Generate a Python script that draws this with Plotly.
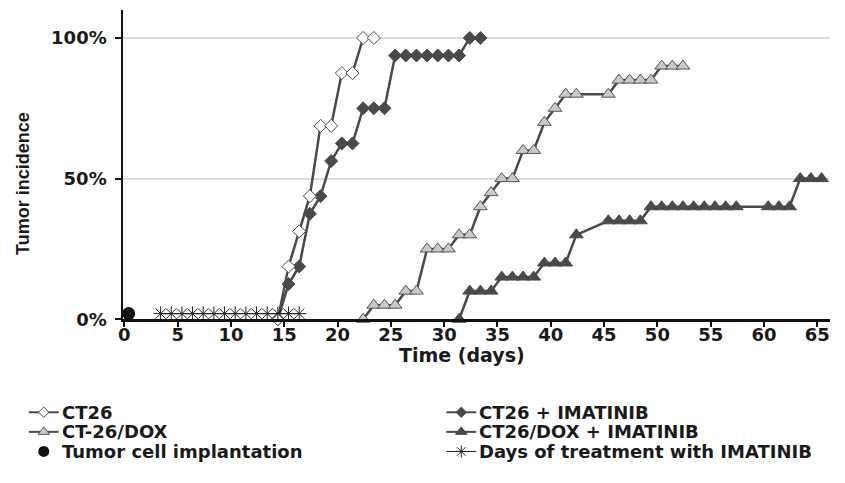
import plotly.graph_objects as go

# ---- data ----
ct26_days = [14.4, 15.4, 16.4, 17.4, 18.4, 19.4, 20.4, 21.4, 22.4, 23.4]
ct26_pct = [0, 18.75, 31.25, 43.75, 68.75, 68.75, 87.5, 87.5, 100, 100]

ct26_ima_days = [14.4, 15.4, 16.4, 17.4, 18.4, 19.4, 20.4, 21.4, 22.4, 23.4,
                 24.4, 25.4, 26.4, 27.4, 28.4, 29.4, 30.4, 31.4, 32.4, 33.4]
ct26_ima_pct = [0, 12.5, 18.75, 37.5, 43.75, 56.25, 62.5, 62.5, 75, 75,
                75, 93.75, 93.75, 93.75, 93.75, 93.75, 93.75, 93.75, 100, 100]

dox_days = [22.4, 23.4, 24.4, 25.4, 26.4, 27.4, 28.4, 29.4, 30.4, 31.4,
            32.4, 33.4, 34.4, 35.4, 36.4, 37.4, 38.4, 39.4, 40.4, 41.4,
            42.4, 45.4, 46.4, 47.4, 48.4, 49.4, 50.4, 51.4, 52.4]
dox_pct = [0, 5, 5, 5, 10, 10, 25, 25, 25, 30,
           30, 40, 45, 50, 50, 60, 60, 70, 75, 80,
           80, 80, 85, 85, 85, 85, 90, 90, 90]

dox_ima_days = [31.4, 32.4, 33.4, 34.4, 35.4, 36.4, 37.4, 38.4, 39.4, 40.4,
                41.4, 42.4, 45.4, 46.4, 47.4, 48.4, 49.4, 50.4, 51.4, 52.4,
                53.4, 54.4, 55.4, 56.4, 57.4, 60.4, 61.4, 62.4, 63.4, 64.4, 65.4]
dox_ima_pct = [0, 10, 10, 10, 15, 15, 15, 15, 20, 20,
               20, 30, 35, 35, 35, 35, 40, 40, 40, 40,
               40, 40, 40, 40, 40, 40, 40, 40, 50, 50, 50]

implant_day = [0.4]
implant_pct = [2]

treat_days = [3.4, 4.4, 5.4, 6.4, 7.4, 8.4, 9.4, 10.4, 11.4, 12.4, 13.4, 14.4, 15.4, 16.4]
treat_pct = [2] * len(treat_days)

x_ticks = [0, 5, 10, 15, 20, 25, 30, 35, 40, 45, 50, 55, 60, 65]
y_ticks = [0, 50, 100]
y_ticktext = ["0%", "50%", "100%"]

series_names = ["CT26", "CT-26/DOX", "Tumor cell implantation",
                "CT26 + IMATINIB", "CT26/DOX + IMATINIB", "Days of treatment with IMATINIB"]

# ---- styles ----
DARK = "#4a4a4a"
TXT = "#1a1a1a"
FONT = "Liberation Sans"
WFONT = "DejaVu Sans"
W, H = 845, 483
PL, PR, PT, PB = 119, 830, 10, 326  # plot-area pixel box

styles = {
    "CT26": dict(mode="lines+markers", line=dict(color=DARK, width=2.5),
                 marker=dict(symbol="diamond", size=10, color="white", line=dict(color=DARK, width=1))),
    "CT26 + IMATINIB": dict(mode="lines+markers", line=dict(color=DARK, width=2.5),
                            marker=dict(symbol="diamond", size=10, color=DARK, line=dict(color=DARK, width=1))),
    "CT-26/DOX": dict(mode="lines+markers", line=dict(color=DARK, width=2.5),
                      marker=dict(symbol="triangle-up", size=12, color="#c9c9c9", line=dict(color="#555555", width=1))),
    "CT26/DOX + IMATINIB": dict(mode="lines+markers", line=dict(color=DARK, width=2.5),
                                marker=dict(symbol="triangle-up", size=12, color=DARK, line=dict(color=DARK, width=1))),
    "Tumor cell implantation": dict(mode="markers",
                                    marker=dict(symbol="circle", size=13, color="#111111")),
    "Days of treatment with IMATINIB": dict(mode="lines+markers", line=dict(color="#222222", width=1),
                                            marker=dict(symbol="asterisk-open", size=12, color="#222222",
                                                        line=dict(color="#222222", width=1))),
}

data = {
    "CT26 + IMATINIB": (ct26_ima_days, ct26_ima_pct),
    "CT26": (ct26_days, ct26_pct),
    "CT-26/DOX": (dox_days, dox_pct),
    "CT26/DOX + IMATINIB": (dox_ima_days, dox_ima_pct),
    "Tumor cell implantation": (implant_day, implant_pct),
    "Days of treatment with IMATINIB": (treat_days, treat_pct),
}

fig = go.Figure()
for name, (xs, ys) in data.items():
    fig.add_trace(go.Scatter(x=xs, y=ys, name=name, showlegend=False, cliponaxis=False,
                             xaxis="x", yaxis="y", **styles[name]))

# ---- manual legend on an overlay axis measured in pixels ----
leg_rows = [421, 441, 461]
leg_cols = [(24, 55), (444, 475)]  # (symbol start, text start)
for i, name in enumerate(series_names):
    col, row = divmod(i, 3)
    x0, xt = leg_cols[col]
    y = leg_rows[row]
    st = styles[name]
    mk = dict(st["marker"])
    mk["size"] = max(mk["size"] - 2, 8)
    if "lines" in st["mode"]:
        fig.add_trace(go.Scatter(x=[x0, x0 + 30], y=[y, y], mode="lines",
                                 line=dict(color=st["line"]["color"], width=2 if st["line"]["width"] > 1 else 1),
                                 showlegend=False, hoverinfo="skip", xaxis="x2", yaxis="y2"))
    fig.add_trace(go.Scatter(x=[x0 + 15], y=[y], mode="markers", marker=mk,
                             showlegend=False, hoverinfo="skip", xaxis="x2", yaxis="y2", cliponaxis=False))
    fig.add_annotation(x=xt, y=y, xref="x2", yref="y2", text=f"<b>{name}</b>", showarrow=False,
                       xanchor="left", yanchor="middle",
                       font=dict(family=WFONT, size=18, color=TXT))

# axis titles
fig.add_annotation(x=460, y=362, xref="x2", yref="y2", text="<b>Time (days)</b>", showarrow=False,
                   xanchor="center", yanchor="middle", font=dict(family=WFONT, size=19, color=TXT))
fig.add_annotation(x=18, y=187, xref="x2", yref="y2", text="<b>Tumor incidence</b>", showarrow=False,
                   textangle=-90, xanchor="center", yanchor="middle", font=dict(family=FONT, size=18, color=TXT))

fig.update_layout(
    width=W, height=H,
    margin=dict(l=0, r=0, t=0, b=0),
    paper_bgcolor="white", plot_bgcolor="rgba(0,0,0,0)",
    showlegend=False,
    font=dict(family=FONT, color=TXT),
    xaxis=dict(
        domain=[PL / W, PR / W], anchor="y",
        range=[-0.1, 66.2], tickmode="array", tickvals=x_ticks,
        ticktext=[f"<b>{v}</b>" for v in x_ticks],
        ticks="outside", ticklen=5, tickwidth=2, tickcolor="#111111",
        showline=True, linecolor="#111111", linewidth=3,
        showgrid=False, zeroline=False,
        ticklabelstandoff=-8,
        tickfont=dict(family=WFONT, size=18, color=TXT),
    ),
    yaxis=dict(
        domain=[1 - PB / H, 1 - PT / H], anchor="x",
        range=[0, 110], tickmode="array", tickvals=y_ticks,
        ticktext=[f"<b>{t}</b>" for t in y_ticktext],
        ticks="outside", ticklen=6, tickwidth=2, tickcolor="#111111",
        showline=True, linecolor="#111111", linewidth=2,
        showgrid=True, gridcolor="#dcdcdc", gridwidth=1.5, zeroline=False,
        ticklabelstandoff=5,
        tickfont=dict(family=WFONT, size=18, color=TXT),
    ),
    xaxis2=dict(domain=[0, 1], anchor="y2", range=[0, W], visible=False, fixedrange=True),
    yaxis2=dict(domain=[0, 1], anchor="x2", range=[H, 0], visible=False, fixedrange=True),
)

fig.write_html("out.html", config={"displayModeBar": False},
               post_script="document.body.style.margin='0px';document.body.style.overflow='hidden';")
